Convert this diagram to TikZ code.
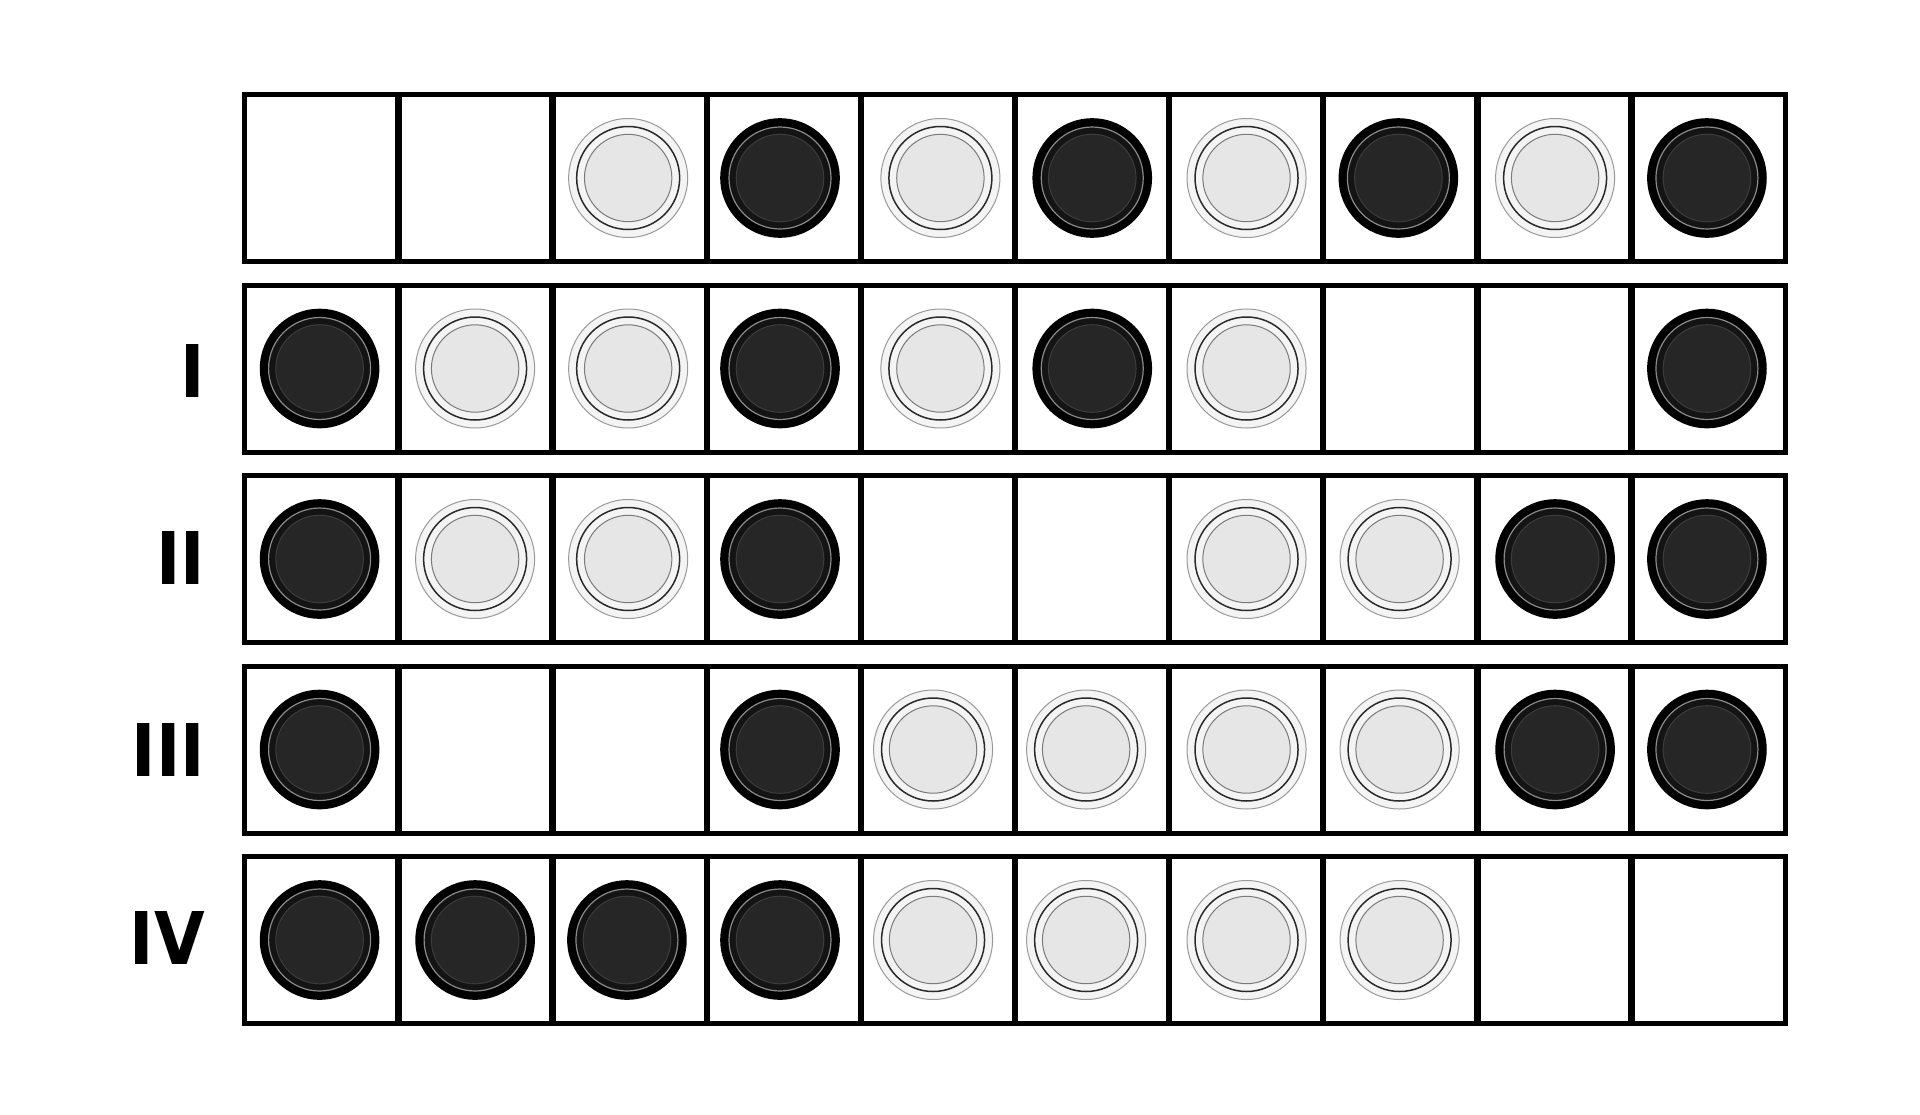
\documentclass[tikz,border=0pt]{standalone}
\usepackage{fontspec}
\newfontfamily\labfont{DejaVu Sans}[FakeStretch=0.9]
\definecolor{wout}{HTML}{F4F4F4}
\definecolor{wedge}{HTML}{9A9A9A}
\definecolor{wring}{HTML}{2A2A2A}
\definecolor{winner}{HTML}{E6E6E6}
\definecolor{wistroke}{HTML}{7A7A7A}
\definecolor{bmid}{HTML}{141414}
\definecolor{bring}{HTML}{8A8A8A}
\definecolor{binner}{HTML}{262626}
\definecolor{bistroke}{HTML}{3C3C3C}
\tikzset{
  pieceW/.pic={
    \fill[wout,draw=wedge,line width=1pt] (0,0) circle (59.5pt);
    \draw[wring,line width=1.5pt] (0,0) circle (51.5pt);
    \fill[winner,draw=wistroke,line width=1pt] (0,0) circle (43.7pt);
  },
  pieceB/.pic={
    \fill[black] (0,0) circle (59.8pt);
    \fill[bmid,draw=bring,line width=1.2pt] (0,0) circle (51pt);
    \fill[binner,draw=bistroke,line width=1pt] (0,0) circle (43.8pt);
  },
  rowlabel/.style={anchor=base east,inner sep=0pt,font=\labfont\bfseries\fontsize{72.7}{80}\selectfont},
  frame/.style={line width=5pt,draw=black},
  divider/.style={line width=6.5pt,draw=black},
}
\begin{document}
\begin{tikzpicture}[x=1pt,y=-1pt]
\useasboundingbox[fill=white] (0,0) rectangle (1920,1114);
% pieces: type / x position (in units of the 1568-wide preview)
\foreach \r/\cells in {0/{W/513,B/637,W/768,B/892,W/1018,B/1142,W/1270,B/1394},
                        1/{B/261,W/388,W/513,B/637,W/768,B/892,W/1018,B/1394},
                        2/{B/261,W/388,W/513,B/637,W/1018,W/1143,B/1270,B/1394},
                        3/{B/261,B/637,W/762,W/887,W/1018,W/1143,B/1270,B/1394},
                        4/{B/261,B/388,B/512,B/637,W/762,W/887,W/1018,W/1143}}{
  \pgfmathsetmacro{\ytop}{94.5+190.5*\r}
  \pgfmathsetmacro{\ybot}{\ytop+167}
  \pgfmathsetmacro{\yc}{\ytop+83.5}
  \foreach \c/\px in \cells {
    \pgfmathsetmacro{\xc}{\px*1.22449}
    \pic at (\xc,\yc) {piece\c};
  }
  \foreach \k in {1,...,9}{
    \pgfmathsetmacro{\xd}{244.5+154.1*\k}
    \draw[divider] (\xd,\ytop) -- (\xd,\ybot);
  }
  \draw[frame] (244.5,\ytop) rectangle (1785.5,\ybot);
}
\node[rowlabel] (lI) at (205,397) {I};
\node[rowlabel] (lII) at (205,584) {II};
\node[rowlabel] (lIII) at (205,776) {III};
\node[rowlabel] (lIV) at (205,964) {IV};
\end{tikzpicture}
\end{document}
